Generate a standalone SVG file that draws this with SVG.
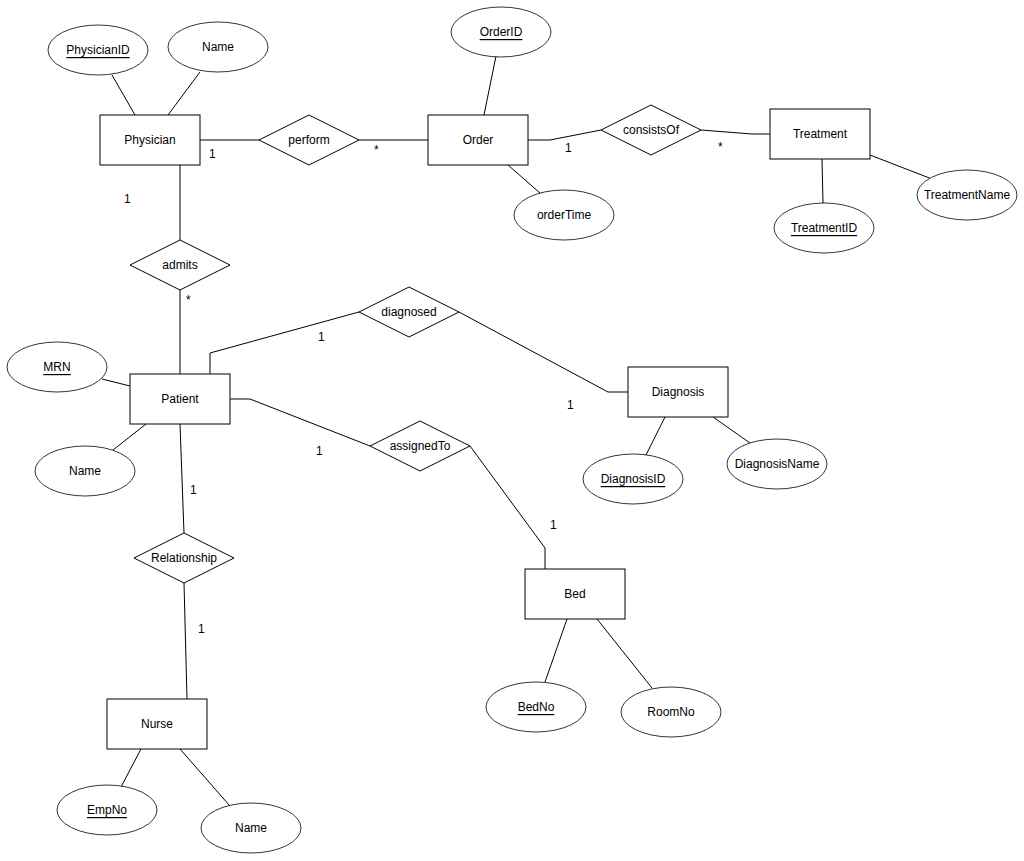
<svg xmlns="http://www.w3.org/2000/svg" width="1024" height="861" viewBox="0 0 1024 861">
<style>
text{font-family:"Liberation Sans",Arial,sans-serif;font-size:12px;fill:#000;text-anchor:middle;dominant-baseline:central}
.u{text-decoration:underline}
.ent{fill:#fff;stroke:#000;stroke-width:1}
.rel{fill:#fff;stroke:#000;stroke-width:1}
.att{fill:#fff;stroke:#000;stroke-width:0.8}
.c{fill:none;stroke:#000;stroke-width:1}
.lbl{text-anchor:start}
</style>
<rect width="1024" height="861" fill="#fff"/>
<g id="connectors">
<polyline class="c" points="112,75 135,115"/>
<polyline class="c" points="200,72 168,115"/>
<polyline class="c" points="200,140 259,140"/>
<polyline class="c" points="359,140 428,140"/>
<polyline class="c" points="496,56 484,115"/>
<polyline class="c" points="508,165 540,193"/>
<polyline class="c" points="528,140 550,140 601,130"/>
<polyline class="c" points="701,130 752,134 770,134"/>
<polyline class="c" points="822,159 823,203"/>
<polyline class="c" points="870,155 932,179"/>
<polyline class="c" points="180,165 180,240"/>
<polyline class="c" points="180,290 180,374"/>
<polyline class="c" points="102,379 130,386"/>
<polyline class="c" points="113,450 146,424"/>
<polyline class="c" points="210,374 210,353 359,312"/>
<polyline class="c" points="459,312 608,392 628,392"/>
<polyline class="c" points="665,417 646,455"/>
<polyline class="c" points="713,417 750,443"/>
<polyline class="c" points="230,399 250,399 370,446"/>
<polyline class="c" points="470,446 545,548 545,569"/>
<polyline class="c" points="567,619 545,682"/>
<polyline class="c" points="597,619 652,688"/>
<polyline class="c" points="180,424 184,533"/>
<polyline class="c" points="184,583 187,699"/>
<polyline class="c" points="141,749 121,787"/>
<polyline class="c" points="180,749 230,806"/>
<text class="lbl" x="209" y="154">1</text>
<text class="lbl" x="374" y="150">*</text>
<text class="lbl" x="565" y="148">1</text>
<text class="lbl" x="718" y="147">*</text>
<text class="lbl" x="124" y="199">1</text>
<text class="lbl" x="186" y="300">*</text>
<text class="lbl" x="318" y="337">1</text>
<text class="lbl" x="567" y="405">1</text>
<text class="lbl" x="316" y="451">1</text>
<text class="lbl" x="550" y="525">1</text>
<text class="lbl" x="190" y="490">1</text>
<text class="lbl" x="198" y="629">1</text>
</g>
<g id="Physician"><rect class="ent" x="100" y="115" width="100" height="50"/><text x="150" y="140">Physician</text></g>
<g id="PhysicianID"><ellipse class="att" cx="98" cy="50" rx="50" ry="25"/><text class="u" x="98" y="50">PhysicianID</text></g>
<g id="PhysicianName"><ellipse class="att" cx="218" cy="47" rx="50" ry="25"/><text x="218" y="47">Name</text></g>
<g id="perform"><polygon class="rel" points="259,140 309,115 359,140 309,165"/><text x="309" y="140">perform</text></g>
<g id="Order"><rect class="ent" x="428" y="115" width="100" height="50"/><text x="478" y="140">Order</text></g>
<g id="OrderID"><ellipse class="att" cx="501" cy="32" rx="50" ry="25"/><text class="u" x="501" y="32">OrderID</text></g>
<g id="orderTime"><ellipse class="att" cx="564" cy="215" rx="50" ry="25"/><text x="564" y="215">orderTime</text></g>
<g id="consistsOf"><polygon class="rel" points="601,130 651,105 701,130 651,155"/><text x="651" y="130">consistsOf</text></g>
<g id="Treatment"><rect class="ent" x="770" y="109" width="100" height="50"/><text x="820" y="134">Treatment</text></g>
<g id="TreatmentID"><ellipse class="att" cx="824" cy="228" rx="50" ry="25"/><text class="u" x="824" y="228">TreatmentID</text></g>
<g id="TreatmentName"><ellipse class="att" cx="967" cy="195" rx="50" ry="25"/><text x="967" y="195">TreatmentName</text></g>
<g id="admits"><polygon class="rel" points="130,265 180,240 230,265 180,290"/><text x="180" y="265">admits</text></g>
<g id="Patient"><rect class="ent" x="130" y="374" width="100" height="50"/><text x="180" y="399">Patient</text></g>
<g id="MRN"><ellipse class="att" cx="57" cy="367" rx="50" ry="25"/><text class="u" x="57" y="367">MRN</text></g>
<g id="PatientName"><ellipse class="att" cx="85" cy="471" rx="50" ry="25"/><text x="85" y="471">Name</text></g>
<g id="diagnosed"><polygon class="rel" points="359,312 409,287 459,312 409,337"/><text x="409" y="312">diagnosed</text></g>
<g id="Diagnosis"><rect class="ent" x="628" y="367" width="100" height="50"/><text x="678" y="392">Diagnosis</text></g>
<g id="DiagnosisID"><ellipse class="att" cx="633" cy="479" rx="50" ry="25"/><text class="u" x="633" y="479">DiagnosisID</text></g>
<g id="DiagnosisName"><ellipse class="att" cx="777" cy="464" rx="50" ry="25"/><text x="777" y="464">DiagnosisName</text></g>
<g id="assignedTo"><polygon class="rel" points="370,446 420,421 470,446 420,471"/><text x="420" y="446">assignedTo</text></g>
<g id="Bed"><rect class="ent" x="525" y="569" width="100" height="50"/><text x="575" y="594">Bed</text></g>
<g id="BedNo"><ellipse class="att" cx="536" cy="707" rx="50" ry="25"/><text class="u" x="536" y="707">BedNo</text></g>
<g id="RoomNo"><ellipse class="att" cx="671" cy="712" rx="50" ry="25"/><text x="671" y="712">RoomNo</text></g>
<g id="Relationship"><polygon class="rel" points="134,558 184,533 234,558 184,583"/><text x="184" y="558">Relationship</text></g>
<g id="Nurse"><rect class="ent" x="107" y="699" width="100" height="50"/><text x="157" y="724">Nurse</text></g>
<g id="EmpNo"><ellipse class="att" cx="107" cy="810" rx="50" ry="25"/><text class="u" x="107" y="810">EmpNo</text></g>
<g id="NurseName"><ellipse class="att" cx="251" cy="828" rx="50" ry="25"/><text x="251" y="828">Name</text></g>
</svg>
